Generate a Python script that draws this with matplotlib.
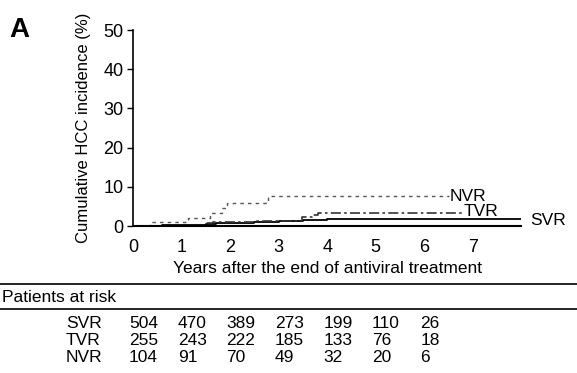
import numpy as np
import matplotlib
matplotlib.use("Agg")
import matplotlib.pyplot as plt
from matplotlib.lines import Line2D
import matplotlib.transforms as mtransforms

plt.rcParams['font.family'] = ['Liberation Sans', 'DejaVu Sans']

# Kaplan-Meier style step curves (years, cumulative %)
svr_t = [0.0, 0.6, 1.0, 1.5, 1.7, 2.0, 2.5, 3.0, 3.5, 4.0, 8.0]
svr_y = [0.0, 0.2, 0.3, 0.5, 0.7, 0.85, 1.0, 1.4, 1.6, 1.8, 1.8]
tvr_t = [0.0, 1.5, 1.65, 2.5, 3.0, 3.48, 3.68, 3.82, 6.8]
tvr_y = [0.0, 0.7, 1.0, 1.2, 1.4, 2.2, 2.8, 3.2, 3.2]
nvr_t = [0.0, 0.35, 1.13, 1.59, 1.83, 1.93, 2.78, 6.5]
nvr_y = [0.0, 1.0, 2.0, 3.2, 4.5, 5.9, 7.6, 7.6]

groups = ['SVR', 'TVR', 'NVR']
years = [0, 1, 2, 3, 4, 5, 6]
at_risk = {
    'SVR': [504, 470, 389, 273, 199, 110, 26],
    'TVR': [255, 243, 222, 185, 133, 76, 18],
    'NVR': [104, 91, 70, 49, 32, 20, 6],
}

fig = plt.figure(figsize=(5.77, 3.73), dpi=100)
ax = fig.add_axes([0.2305, 0.394, 0.673, 0.5255])

ax.step(svr_t, svr_y, where='post', color='black', lw=1.3)
ax.step(tvr_t, tvr_y, where='post', color='#333333', lw=1.2, dashes=(6, 2, 1.5, 2))
ax.step(nvr_t, nvr_y, where='post', color='#555555', lw=1.0, dashes=(2.5, 3))

ax.text(6.52, 7.6, 'NVR', fontsize=12.5, va='center', ha='left')
ax.text(6.82, 3.6, 'TVR', fontsize=12.5, va='center', ha='left')
ax.text(8.18, 1.5, 'SVR', fontsize=12.5, va='center', ha='left')

ax.set_xlim(0, 8)
ax.set_ylim(0, 50)
ax.set_xticks(range(0, 8))
ax.set_yticks(range(0, 51, 10))
ax.tick_params(axis='x', length=0, labelsize=13, pad=9)
ax.tick_params(axis='y', length=4, width=1, labelsize=13, pad=3)
for s in ['top', 'right']:
    ax.spines[s].set_visible(False)
ax.spines['left'].set_linewidth(1.2)
ax.spines['bottom'].set_linewidth(1.5)
ax.set_xlabel('Years after the end of antiviral treatment', fontsize=12.5, labelpad=4)
ax.set_ylabel('Cumulative HCC incidence (%)', fontsize=12, labelpad=9)

fig.text(0.017, 0.955, 'A', fontsize=20, fontweight='bold', va='top', ha='left')

# patients at risk table
fig.add_artist(Line2D([0, 1], [1 - 284 / 373] * 2, color='black', lw=1.2))
fig.add_artist(Line2D([0, 1], [1 - 309 / 373] * 2, color='black', lw=1.2))
fig.text(0.004, 1 - 297 / 373, 'Patients at risk', fontsize=12.5, va='center', ha='left')

trans = mtransforms.blended_transform_factory(ax.transData, fig.transFigure)
for i, g in enumerate(groups):
    yy = 1 - (323 + i * 17.5) / 373
    fig.text(66 / 577, yy, g, fontsize=12.5, va='center', ha='left')
    for yr, n in zip(years, at_risk[g]):
        ax.text(yr - 0.08, yy, str(n), fontsize=12.5, va='center', ha='left',
                transform=trans, clip_on=False)

fig.savefig('out.png', dpi=100)
